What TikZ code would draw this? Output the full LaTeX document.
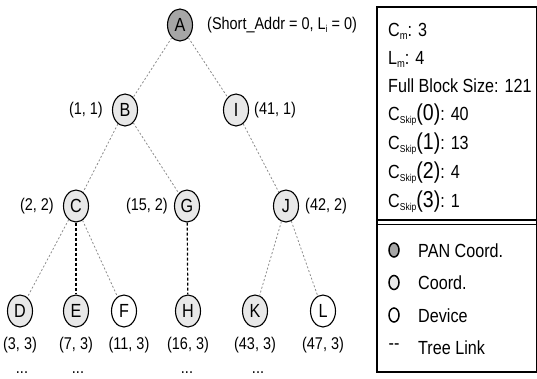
\documentclass[tikz,border=0pt]{standalone}
\usepackage{fontspec}
\setmainfont[FakeStretch=0.85]{Liberation Sans}
\usetikzlibrary{shapes.geometric}

% small lowered text for subscripts
\newcommand\sbx[2]{\raisebox{-3pt}{\fontsize{#1}{#1}\selectfont #2}}

\begin{document}
\begin{tikzpicture}[x=1pt,y=-1pt,
  tn/.style={ellipse, draw=black, line width=1.1pt, minimum width=25pt,
    minimum height=32pt, inner sep=0pt, font=\fontsize{19}{19}\selectfont},
  pan/.style={tn, fill=black!35},
  crd/.style={tn, fill=black!9},
  dev/.style={tn, fill=white},
  lbl/.style={font=\fontsize{17}{17}\selectfont, inner sep=0pt},
  link/.style={draw=black!45, dash pattern=on 2pt off 2pt, line width=0.8pt},
  treelink/.style={draw=black, dash pattern=on 3pt off 2pt, line width=1.2pt},
  boxtxt/.style={font=\fontsize{19}{19}\selectfont, anchor=base west, inner sep=0pt},
  sym/.style={ellipse, draw=black, line width=1.5pt, minimum width=10pt,
    minimum height=14pt, inner sep=0pt},
]
\useasboundingbox (0,0) rectangle (537,378);

% tree nodes
\node[pan] (A) at (180,25) {A};
\node[crd] (B) at (125,110) {B};
\node[crd] (I) at (236,110) {I};
\node[crd] (C) at (76,206) {C};
\node[crd] (G) at (187,206) {G};
\node[crd] (J) at (286,206) {J};
\node[crd] (D) at (20,311) {D};
\node[crd] (E) at (76,311) {E};
\node[dev] (F) at (124,311) {F};
\node[crd] (H) at (188,311) {H};
\node[crd] (K) at (255,311) {K};
\node[dev] (L) at (323,311) {L};

% links
\draw[link] (A) -- (B);
\draw[link] (A) -- (I);
\draw[link] (B) -- (C);
\draw[link] (B) -- (G);
\draw[link] (I) -- (J);
\draw[link] (C) -- (D);
\draw[link] (C) -- (F);
\draw[link] (J) -- (K);
\draw[link] (J) -- (L);
\draw[treelink] (C) -- (E);
\draw[treelink] (G) -- (H);

% address labels
\node[lbl, anchor=west] (la) at (207,25) {(Short\_Addr = 0, L\sbx{10}{i} = 0)};
\node[lbl, anchor=east] (lb) at (103,110) {(1, 1)};
\node[lbl, anchor=west] (li) at (254,110) {(41, 1)};
\node[lbl, anchor=east] (lc) at (54,206) {(2, 2)};
\node[lbl, anchor=east] (lg) at (168,206) {(15, 2)};
\node[lbl, anchor=west] (lj) at (305,206) {(42, 2)};
\node[lbl] (ld) at (20,345) {(3, 3)};
\node[lbl] (le) at (76,345) {(7, 3)};
\node[lbl] (lf) at (129,345) {(11, 3)};
\node[lbl] (lh) at (188,345) {(16, 3)};
\node[lbl] (lk) at (255,345) {(43, 3)};
\node[lbl] (ll) at (323,345) {(47, 3)};

% continuation marks
\node[lbl, anchor=base] (dd) at (22,373) {...};
\node[lbl, anchor=base] (de) at (78,373) {...};
\node[lbl, anchor=base] (dh) at (187,373) {...};
\node[lbl, anchor=base] (dk) at (258,373) {...};

% parameter and legend box
\draw[line width=1.4pt] (377,7) rectangle (536.3,372);
\draw[line width=1.1pt] (377,220) -- (536.3,220);
\draw[line width=1.1pt] (377,224.5) -- (536.3,224.5);

\node[boxtxt] (t1) at (388,36) {C\sbx{11}{m}: 3};
\node[boxtxt] (t2) at (388,64) {L\sbx{11}{m}: 4};
\node[boxtxt] (t3) at (388,92) {Full Block Size: 121};
\node[boxtxt] (t4) at (388,120) {C\sbx{10}{Skip}{\fontsize{23}{23}\selectfont(0)}: 40};
\node[boxtxt] (t5) at (388,149) {C\sbx{10}{Skip}{\fontsize{23}{23}\selectfont(1)}: 13};
\node[boxtxt] (t6) at (388,178) {C\sbx{10}{Skip}{\fontsize{23}{23}\selectfont(2)}: 4};
\node[boxtxt] (t7) at (388,207) {C\sbx{10}{Skip}{\fontsize{23}{23}\selectfont(3)}: 1};

\node[sym, fill=black!35] (s1) at (394,250) {};
\node[sym, fill=black!9] (s2) at (394,282.5) {};
\node[sym, fill=white] (s3) at (394,315) {};
\node[font=\fontsize{19}{19}\selectfont, inner sep=0pt] (s4) at (394,347) {-{}-};

\node[boxtxt] (g1) at (418,257) {PAN Coord.};
\node[boxtxt] (g2) at (418,289.5) {Coord.};
\node[boxtxt] (g3) at (418,322) {Device};
\node[boxtxt] (g4) at (418,354.5) {Tree Link};
\end{tikzpicture}
\end{document}
